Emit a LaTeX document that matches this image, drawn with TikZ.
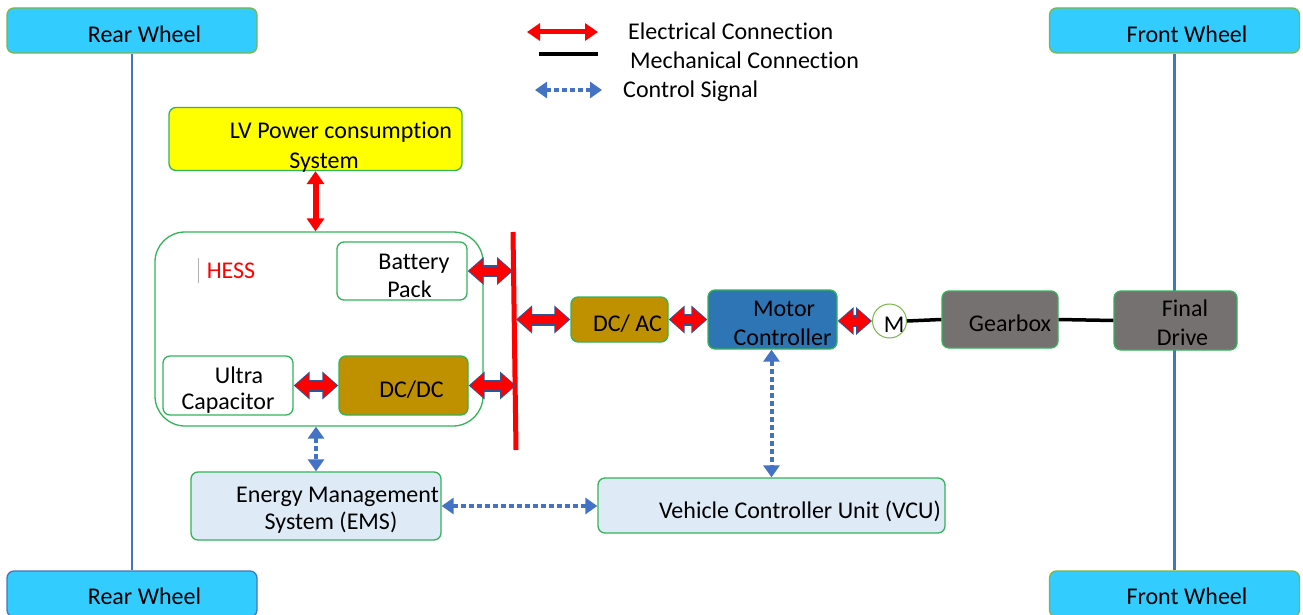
\documentclass[tikz,border=0pt]{standalone}
\usepackage{fontspec}
\setmainfont{Carlito}[RawFeature={-liga}]
\usetikzlibrary{arrows.meta,calc}

\definecolor{boxgreen}{HTML}{33B35A}
\definecolor{wheelgreen}{HTML}{7AB648}
\definecolor{rearblue}{HTML}{4A74B8}
\definecolor{cyanfill}{HTML}{33CCFF}
\definecolor{gold}{HTML}{BF9000}
\definecolor{mcblue}{HTML}{2E75B6}
\definecolor{grayfill}{HTML}{767171}
\definecolor{lightblue}{HTML}{DEEBF7}
\definecolor{linkblue}{HTML}{4472C4}
\definecolor{outline}{HTML}{2F5597}
\definecolor{lvyellow}{HTML}{FFFF00}

\tikzset{
  box/.style={draw=boxgreen, line width=1.3pt, rounded corners=7pt, inner sep=0pt},
  wheel/.style={box, draw=wheelgreen, fill=cyanfill, minimum width=250pt, minimum height=45pt},
  lbl/.style={inner sep=0pt, anchor=base},
  axle/.style={draw=linkblue, line width=2.8pt},
  mech/.style={draw=black, line width=3.5pt},
  ctrl/.style={draw=linkblue, line width=4pt, dash pattern=on 5pt off 3pt,
    {Triangle[length=12pt,width=16pt]}-{Triangle[length=12pt,width=16pt]}},
  elec/.style={draw=red, line width=5pt,
    {Triangle[length=13pt,width=17pt]}-{Triangle[length=13pt,width=17pt]}},
  powout/.style={draw=outline, line width=12pt,
    {Triangle[length=16pt,width=27pt]}-{Triangle[length=16pt,width=27pt]}},
  powin/.style={draw=red, line width=9pt, shorten <=1.5pt, shorten >=1.5pt,
    {Triangle[length=13.5pt,width=23pt]}-{Triangle[length=13.5pt,width=23pt]}},
}

% thick outlined power link
\newcommand\powlink[2]{\draw[powout] #1 -- #2; \draw[powin] #1 -- #2;}

\begin{document}
\begin{tikzpicture}[x=1pt, y=-1pt, font=\fontsize{24}{28}\selectfont]
\useasboundingbox (0,0) rectangle (1303,615);
\clip (0,0) rectangle (1303,615);

% wheels and axles
\node[wheel] (rwtop) at (132,30.5) {};
\node[wheel, draw=rearblue, minimum height=46pt] (rwbot) at (132,594) {};
\node[wheel] (fwtop) at (1174.5,30.5) {};
\node[wheel, minimum height=46pt] (fwbot) at (1174.5,594) {};
\draw[axle] (rwtop) -- (rwbot);
\draw[axle] (fwtop) -- (fwbot);
\node[lbl] (rwtop-t) at (144.5,43) {Rear Wheel};
\node[lbl] (rwbot-t) at (144.5,604) {Rear Wheel};
\node[lbl] (fwtop-t) at (1187,43) {Front Wheel};
\node[lbl] (fwbot-t) at (1187,604) {Front Wheel};

% legend
\coordinate (lg-e1) at (527,32);
\coordinate (lg-e2) at (598,32);
\coordinate (lg-m1) at (539,54);
\coordinate (lg-m2) at (598,54);
\coordinate (lg-c1) at (535,90);
\coordinate (lg-c2) at (602,90);
\draw[elec] (lg-e1) -- (lg-e2);
\draw[mech, line width=4pt] (lg-m1) -- (lg-m2);
\draw[ctrl] (lg-c1) -- (lg-c2);
\node[lbl, anchor=base west] (lg-et) at (628,40) {Electrical Connection};
\node[lbl, anchor=base west] (lg-mt) at (630,69) {Mechanical Connection};
\node[lbl, anchor=base west] (lg-ct) at (623,98) {Control Signal};

% low-voltage consumers
\node[box, fill=lvyellow, minimum width=293pt, minimum height=63pt] (lv) at (315.5,139) {};
\node[lbl] (lv-t1) at (341,139) {LV Power consumption};
\node[lbl] (lv-t2) at (324,168) {System};

% hybrid energy storage system
\node[box, rounded corners=30pt, minimum width=328pt, minimum height=194pt] (hess) at (319,329) {};
\node[lbl, text=red] (hess-t) at (231,278) {HESS};
\draw[gray!60, line width=0.8pt] ([xshift=-8pt]hess-t.base west) ++(0,5) -- ++(0,-25);

\node[box, fill=white, minimum width=130pt, minimum height=58pt] (bat) at (402,271) {};
\node[lbl] (bat-t1) at (414,269) {Battery};
\node[lbl] (bat-t2) at (409.5,297) {Pack};

\node[box, fill=white, minimum width=130pt, minimum height=59pt] (uc) at (228,385.5) {};
\node[lbl] (uc-t1) at (239,383) {Ultra};
\node[lbl] (uc-t2) at (228,409) {Capacitor};

\node[box, fill=gold, minimum width=129pt, minimum height=59pt] (dcdc) at (403.5,385.5) {};
\node[lbl] (dcdc-t) at (411.5,397) {DC/DC};

% DC bus
\coordinate (bus-top) at (513,232);
\coordinate (bus-bot) at (516,450);
\draw[red, line width=5pt] (bus-top) -- (bus-bot);

% drive train
\node[box, fill=gold, minimum width=97pt, minimum height=45pt] (dcac) at (619.5,319.5) {};
\node[lbl] (dcac-t) at (627.5,331) {DC/ AC};

\node[box, fill=mcblue, minimum width=129pt, minimum height=59pt] (mc) at (772.5,319.5) {};
\node[lbl] (mc-t1) at (784,316) {Motor};
\node[lbl] (mc-t2) at (782.5,345) {Controller};

\node[circle, draw=wheelgreen, line width=1pt, fill=white, minimum size=34pt, inner sep=0pt] (mot) at (889.5,321) {};
\node[lbl] (mot-t) at (894,332) {M};

\node[box, fill=grayfill, minimum width=116pt, minimum height=57pt] (gear) at (1000,319.5) {};
\node[lbl] (gear-t) at (1010,331) {Gearbox};

\node[box, fill=grayfill, minimum width=123pt, minimum height=59pt] (fd) at (1175.5,320.5) {};
\node[lbl] (fd-t1) at (1185,316) {Final};
\node[lbl] (fd-t2) at (1182.5,345) {Drive};

% controllers
\node[box, fill=lightblue, minimum width=250pt, minimum height=68pt] (ems) at (316,506) {};
\node[lbl] (ems-t1) at (337.5,502) {Energy Management};
\node[lbl] (ems-t2) at (331,529) {System (EMS)};

\node[box, fill=lightblue, minimum width=347pt, minimum height=55pt] (vcu) at (771.5,505.5) {};
\node[lbl] (vcu-t) at (800,518) {Vehicle Controller Unit (VCU)};

% electrical connections
\draw[elec, line width=6pt] (lv.south) -- (lv.south |- hess.north);
\powlink{(bat.east)}{(bat.east -| bus-top)}
\powlink{(dcdc.east)}{(dcdc.east -| bus-bot)}
\powlink{(uc.east)}{(dcdc.west)}
\powlink{(dcac.west -| bus-bot)}{(dcac.west)}
\powlink{(dcac.east)}{(mc.west)}
\powlink{(mot.west -| mc.east)}{(mot.west)}

% mechanical connections
\draw[mech] (mot.east) -- (gear.west);
\draw[mech] (gear.east) -- (fd.west);

% control signals
\draw[ctrl] (hess.south -| ems.north) -- (ems.north);
\draw[ctrl] (ems.east) -- (ems.east -| vcu.west);
\draw[ctrl] (mc.south -| vcu.north) -- (vcu.north);
\end{tikzpicture}
\end{document}
